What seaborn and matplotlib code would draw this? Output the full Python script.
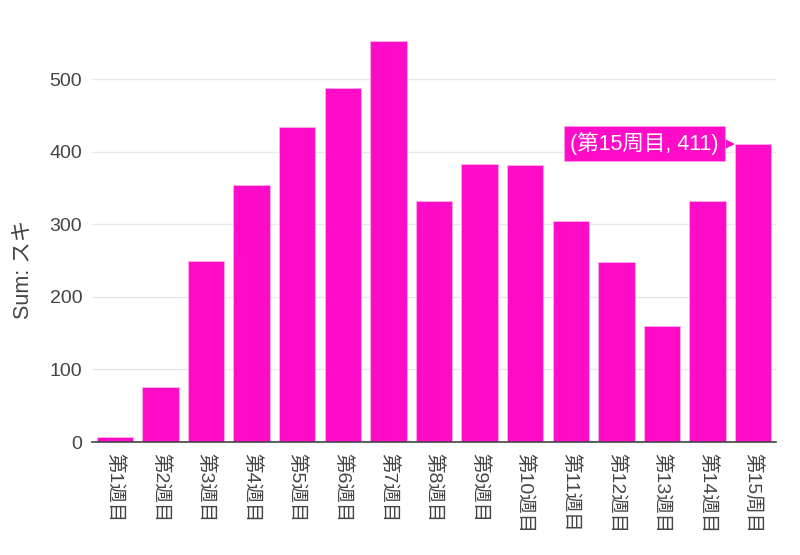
import matplotlib
matplotlib.use("Agg")
import matplotlib.pyplot as plt
import matplotlib.transforms as mtransforms
import seaborn as sns
import pandas as pd

weeks = ["第1週目", "第2週目", "第3週目", "第4週目", "第5週目", "第6週目", "第7週目",
         "第8週目", "第9週目", "第10週目", "第11週目", "第12週目", "第13週目", "第14週目", "第15周目"]
likes = [7, 76, 250, 354, 434, 488, 552, 332, 383, 382, 305, 248, 160, 332, 411]
hover_index = 14

sns.set_theme(style="white")
plt.rcParams['font.family'] = ['Liberation Sans', 'Noto Sans CJK JP', 'DejaVu Sans']

color = "#FF0CC8"
df = pd.DataFrame({"week": weeks, "likes": likes})

fig = plt.figure(figsize=(8, 5.55), dpi=100)
ax = fig.add_axes([0.115, 0.2036, 0.855, 0.7584])
sns.barplot(data=df, x="week", y="likes", color=color, saturation=1, width=0.8,
            edgecolor="#ffb3ec", linewidth=0.5, ax=ax)

ax.set_ylim(0, 580)
ax.set_xlim(-0.5, len(weeks) - 0.5)
ax.set_yticks([0, 100, 200, 300, 400, 500])
ax.yaxis.grid(True, color="#e8e8e8", linewidth=1)
ax.set_axisbelow(True)
for s in ["top", "right", "left"]:
    ax.spines[s].set_visible(False)
ax.spines["bottom"].set_color("#444444")
ax.spines["bottom"].set_linewidth(1.2)
ax.tick_params(axis="y", colors="#444444", labelsize=14, length=5, color="#e8e8e8", pad=2)
ax.tick_params(axis="x", colors="#444444", labelsize=14, length=0, pad=8)
plt.setp(ax.get_xticklabels(), rotation=-90, va="top", ha="center")
ax.set_xlabel("")
ax.set_ylabel("Sum: スキ", fontsize=15.5, color="#444444")
ax.yaxis.set_label_coords(-0.085, 0.41)

# hover label
bx = hover_index - 0.4
hy = likes[hover_index]
ax.annotate(f"({weeks[hover_index]}, {hy})", xy=(bx, hy),
            xytext=(-11.5, 0), textcoords="offset points", ha="right", va="center",
            fontsize=15.5, color="white",
            bbox=dict(boxstyle="square,pad=0.28", fc=color, ec="#ff9be6", lw=0.6))
tri_tr = mtransforms.offset_copy(ax.transData, fig=fig, x=-4.3, y=0, units="points")
ax.plot([bx], [hy], marker=">", markersize=8.5, color=color, markeredgewidth=0,
        transform=tri_tr, clip_on=False)

fig.savefig("out.png", dpi=100)
